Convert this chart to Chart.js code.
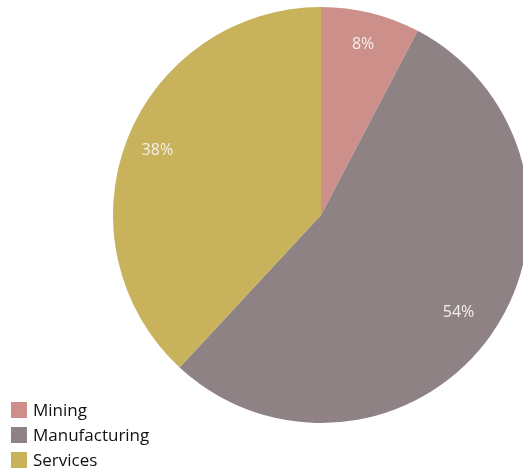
<!DOCTYPE html>
<html>
<head>
<meta charset="utf-8">
<script src="https://cdn.jsdelivr.net/npm/chart.js@4/dist/chart.umd.min.js"></script>
<style>
  html, body { margin: 0; padding: 0; background: #fff; overflow: hidden; width: 523px; height: 471px; }
  #pie { position: absolute; left: 113px; top: 7px; }
  #legend { position: absolute; left: 11px; top: 397px; font-family: "Open Sans", sans-serif; font-size: 17px; color: #111; }
  .item { display: flex; align-items: center; height: 25px; }
  .box { width: 16px; height: 16px; margin-right: 6px; }
</style>
</head>
<body>
<canvas id="pie" width="416" height="416"></canvas>
<div id="legend"></div>
<script>
const categories = ["Mining", "Manufacturing", "Services"];
const shares = [7.7, 54.2, 38.1];
const shareLabels = ["8%", "54%", "38%"];
const colors = ["#cd8f8a", "#8e8285", "#c8b35c"];

// percent labels inside each slice
const sliceLabels = {
  id: "sliceLabels",
  afterDatasetsDraw(chart) {
    const ctx = chart.ctx;
    const meta = chart.getDatasetMeta(0);
    ctx.save();
    ctx.font = "16px 'Open Sans', sans-serif";
    ctx.fillStyle = "#f4f0ec";
    ctx.textAlign = "center";
    ctx.textBaseline = "middle";
    meta.data.forEach((arc, i) => {
      const mid = (arc.startAngle + arc.endAngle) / 2;
      const r = arc.outerRadius * (i === 1 ? 0.81 : 0.845);
      ctx.fillText(shareLabels[i], arc.x + Math.cos(mid) * r, arc.y + Math.sin(mid) * r);
    });
    ctx.restore();
  },
};

new Chart(document.getElementById("pie"), {
  type: "pie",
  data: {
    labels: categories,
    datasets: [{ data: shares, backgroundColor: colors, borderWidth: 0 }],
  },
  options: {
    responsive: false,
    animation: false,
    devicePixelRatio: 1,
    layout: { padding: 0 },
    plugins: { legend: { display: false }, tooltip: { enabled: false } },
  },
  plugins: [sliceLabels],
});

const legend = document.getElementById("legend");
categories.forEach((name, i) => {
  const row = document.createElement("div");
  row.className = "item";
  row.innerHTML = `<span class="box" style="background:${colors[i]}"></span>${name}`;
  legend.appendChild(row);
});
</script>
</body>
</html>
